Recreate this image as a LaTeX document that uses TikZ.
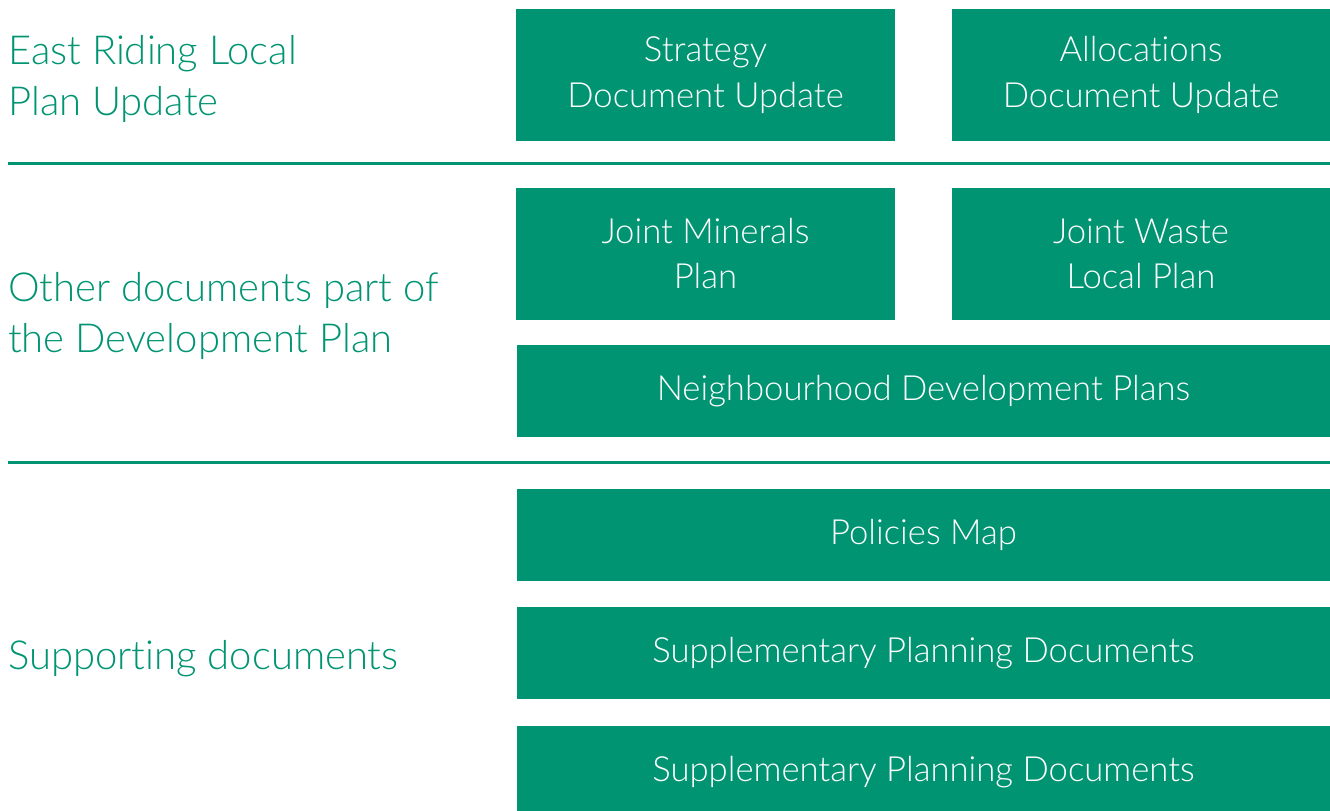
\documentclass[tikz,border=0pt]{standalone}
\usepackage{fontspec}
\setmainfont{Lato Light}[Ligatures=NoCommon]
\usepackage{tikz}
\usetikzlibrary{positioning}
\definecolor{plangreen}{RGB}{0,148,114}

\begin{document}
\begin{tikzpicture}[x=0.75pt, y=-0.75pt, node distance={42pt},
  box/.style = {fill=plangreen, text=white, inner sep=0pt, align=center, font=\fontsize{26}{34}\selectfont},
  halfbox/.style = {box, minimum width=284.25pt, minimum height=99pt},
  widebox/.style = {box, minimum width=609.75pt, minimum height=69pt},
  heading/.style = {text=plangreen, anchor=west, align=left, inner sep=0pt, font=\fontsize{30}{38}\selectfont},
  rule/.style = {draw=plangreen, line width=2.25pt}]
\useasboundingbox (0,0) rectangle (1330,810);
% local plan row
\node[halfbox] (strat) at (705.5,75) {Strategy\\Document Update};
\node[halfbox] (alloc) [right=of strat] {Allocations\\Document Update};
\node[heading] (riding) at (8,79) {East Riding Local\\Plan Update};
\draw[rule] (8,163) -- (1330,163);
% development plan row
\node[halfbox] (minerals) [below=34.5pt of strat] {Joint Minerals\\Plan};
\node[halfbox] (waste) [below=34.5pt of alloc] {Joint Waste\\Local Plan};
\node[widebox] (neigh) at (923.5,391) {Neighbourhood Development Plans};
\node[heading] (other) at (8,316) {Other documents part of\\the Development Plan};
\draw[rule] (8,462) -- (1330,462);
% supporting row
\node[widebox] (policies) [below=38.25pt of neigh] {Policies Map};
\node[widebox] (spd1) [below=19.5pt of policies] {Supplementary Planning Documents};
\node[widebox] (spd2) [below=19.5pt of spd1] {Supplementary Planning Documents};
\node[heading] (support) at (8,659) {Supporting documents};
\end{tikzpicture}
\end{document}
